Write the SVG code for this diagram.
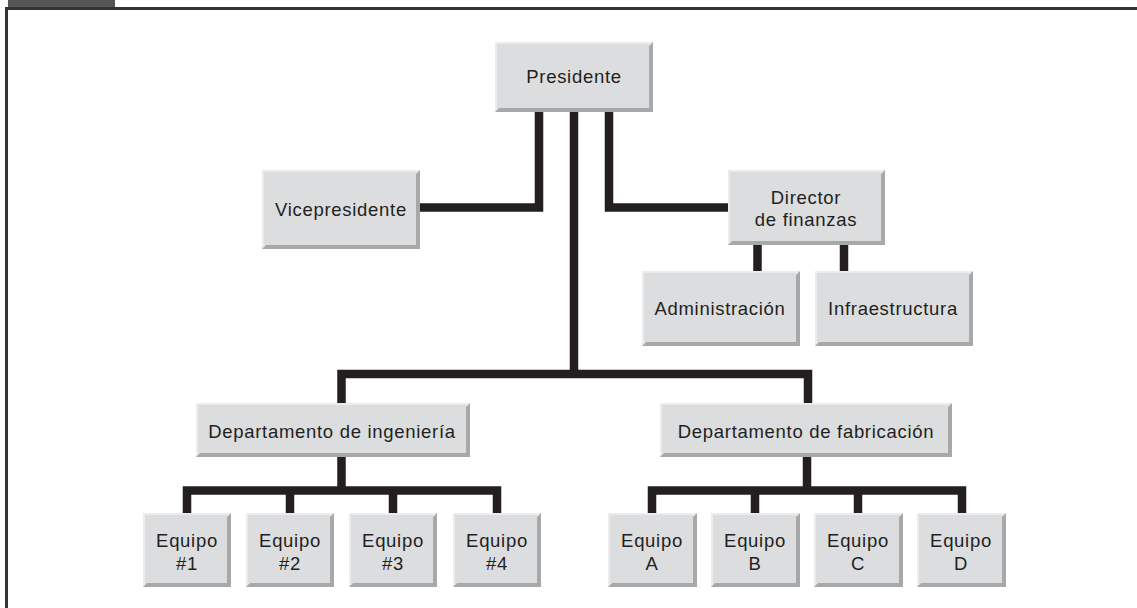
<svg xmlns="http://www.w3.org/2000/svg" width="1137" height="608" viewBox="0 0 1137 608">
  <style>
    .lt { fill: #ececed; }
    .dk { fill: #a7a8aa; }
    .face { fill: #dcdddf; }
    .lbl { font-family: "Liberation Sans", Arial, sans-serif; font-size: 18.5px; letter-spacing: 0.7px; fill: #231f20; text-anchor: middle; }
    .wire { fill: none; stroke: #231f20; stroke-width: 8.5; stroke-linejoin: miter; stroke-linecap: butt; }
  </style>

  <rect x="0" y="0" width="1137" height="608" fill="#ffffff"/>

  <!-- frame: header tab, top rule and left rule -->
  <g id="frame">
    <rect x="8" y="0" width="107" height="8" fill="#555555"/>
    <rect x="5" y="7" width="1132" height="3" fill="#333333"/>
    <rect x="5" y="7" width="3" height="601" fill="#333333"/>
  </g>

  <!-- connectors -->
  <g id="connectors" class="wire">
    <path d="M539,112 V207.5 H420"/>
    <path d="M609,112 V207.5 H728"/>
    <path d="M574,112 V374"/>
    <path d="M341.5,403 V374 H808 V403"/>
    <path d="M757.5,245 V271"/>
    <path d="M844,245 V271"/>
    <path d="M341.5,456 V490.5"/>
    <path d="M187,513 V490.5 H497 V513"/>
    <path d="M290,490.5 V513"/>
    <path d="M393,490.5 V513"/>
    <path d="M807,456 V490.5"/>
    <path d="M652,513 V490.5 H962 V513"/>
    <path d="M755,490.5 V513"/>
    <path d="M858,490.5 V513"/>
  </g>

  <!-- nodes: bevelled boxes -->
  <g id="presidente">
    <rect class="lt" x="495" y="42" width="158" height="70"/>
    <polygon class="dk" points="653,42 653,112 495,112 499,108 649,108 649,46"/>
    <rect class="face" x="497" y="44" width="152" height="64"/>
    <text class="lbl" x="574" y="83">Presidente</text>
  </g>

  <g id="vicepresidente">
    <rect class="lt" x="262" y="170" width="158" height="79"/>
    <polygon class="dk" points="420,170 420,249 262,249 266,245 416,245 416,174"/>
    <rect class="face" x="264" y="172" width="152" height="73"/>
    <text class="lbl" x="341" y="216">Vicepresidente</text>
  </g>

  <g id="director">
    <rect class="lt" x="728" y="170" width="157" height="75"/>
    <polygon class="dk" points="885,170 885,245 728,245 732,241 881,241 881,174"/>
    <rect class="face" x="730" y="172" width="151" height="69"/>
    <text class="lbl" x="806" y="204">Director</text>
    <text class="lbl" x="806" y="226">de finanzas</text>
  </g>

  <g id="administracion">
    <rect class="lt" x="642" y="271" width="158" height="75"/>
    <polygon class="dk" points="800,271 800,346 642,346 646,342 796,342 796,275"/>
    <rect class="face" x="644" y="273" width="152" height="69"/>
    <text class="lbl" x="720" y="315">Administración</text>
  </g>

  <g id="infraestructura">
    <rect class="lt" x="815" y="271" width="158" height="75"/>
    <polygon class="dk" points="973,271 973,346 815,346 819,342 969,342 969,275"/>
    <rect class="face" x="817" y="273" width="152" height="69"/>
    <text class="lbl" x="893" y="315">Infraestructura</text>
  </g>

  <g id="dep-ingenieria">
    <rect class="lt" x="196" y="403" width="274" height="54"/>
    <polygon class="dk" points="470,403 470,457 196,457 200,453 466,453 466,407"/>
    <rect class="face" x="198" y="405" width="268" height="48"/>
    <text class="lbl" x="332" y="438">Departamento de ingeniería</text>
  </g>

  <g id="dep-fabricacion">
    <rect class="lt" x="660" y="403" width="292" height="54"/>
    <polygon class="dk" points="952,403 952,457 660,457 664,453 948,453 948,407"/>
    <rect class="face" x="662" y="405" width="286" height="48"/>
    <text class="lbl" x="806" y="438">Departamento de fabricación</text>
  </g>

  <g id="equipo-1">
    <rect class="lt" x="143" y="513" width="88" height="74"/>
    <polygon class="dk" points="231,513 231,587 143,587 147,583 227,583 227,517"/>
    <rect class="face" x="145" y="515" width="82" height="68"/>
    <text class="lbl" x="187" y="547">Equipo</text>
    <text class="lbl" x="187" y="570">#1</text>
  </g>

  <g id="equipo-2">
    <rect class="lt" x="246" y="513" width="88" height="74"/>
    <polygon class="dk" points="334,513 334,587 246,587 250,583 330,583 330,517"/>
    <rect class="face" x="248" y="515" width="82" height="68"/>
    <text class="lbl" x="290" y="547">Equipo</text>
    <text class="lbl" x="290" y="570">#2</text>
  </g>

  <g id="equipo-3">
    <rect class="lt" x="349" y="513" width="88" height="74"/>
    <polygon class="dk" points="437,513 437,587 349,587 353,583 433,583 433,517"/>
    <rect class="face" x="351" y="515" width="82" height="68"/>
    <text class="lbl" x="393" y="547">Equipo</text>
    <text class="lbl" x="393" y="570">#3</text>
  </g>

  <g id="equipo-4">
    <rect class="lt" x="453" y="513" width="88" height="74"/>
    <polygon class="dk" points="541,513 541,587 453,587 457,583 537,583 537,517"/>
    <rect class="face" x="455" y="515" width="82" height="68"/>
    <text class="lbl" x="497" y="547">Equipo</text>
    <text class="lbl" x="497" y="570">#4</text>
  </g>

  <g id="equipo-a">
    <rect class="lt" x="608" y="513" width="89" height="74"/>
    <polygon class="dk" points="697,513 697,587 608,587 612,583 693,583 693,517"/>
    <rect class="face" x="610" y="515" width="83" height="68"/>
    <text class="lbl" x="652" y="547">Equipo</text>
    <text class="lbl" x="652" y="570">A</text>
  </g>

  <g id="equipo-b">
    <rect class="lt" x="711" y="513" width="89" height="74"/>
    <polygon class="dk" points="800,513 800,587 711,587 715,583 796,583 796,517"/>
    <rect class="face" x="713" y="515" width="83" height="68"/>
    <text class="lbl" x="755" y="547">Equipo</text>
    <text class="lbl" x="755" y="570">B</text>
  </g>

  <g id="equipo-c">
    <rect class="lt" x="814" y="513" width="89" height="74"/>
    <polygon class="dk" points="903,513 903,587 814,587 818,583 899,583 899,517"/>
    <rect class="face" x="816" y="515" width="83" height="68"/>
    <text class="lbl" x="858" y="547">Equipo</text>
    <text class="lbl" x="858" y="570">C</text>
  </g>

  <g id="equipo-d">
    <rect class="lt" x="917" y="513" width="89" height="74"/>
    <polygon class="dk" points="1006,513 1006,587 917,587 921,583 1002,583 1002,517"/>
    <rect class="face" x="919" y="515" width="83" height="68"/>
    <text class="lbl" x="961" y="547">Equipo</text>
    <text class="lbl" x="961" y="570">D</text>
  </g>
</svg>
